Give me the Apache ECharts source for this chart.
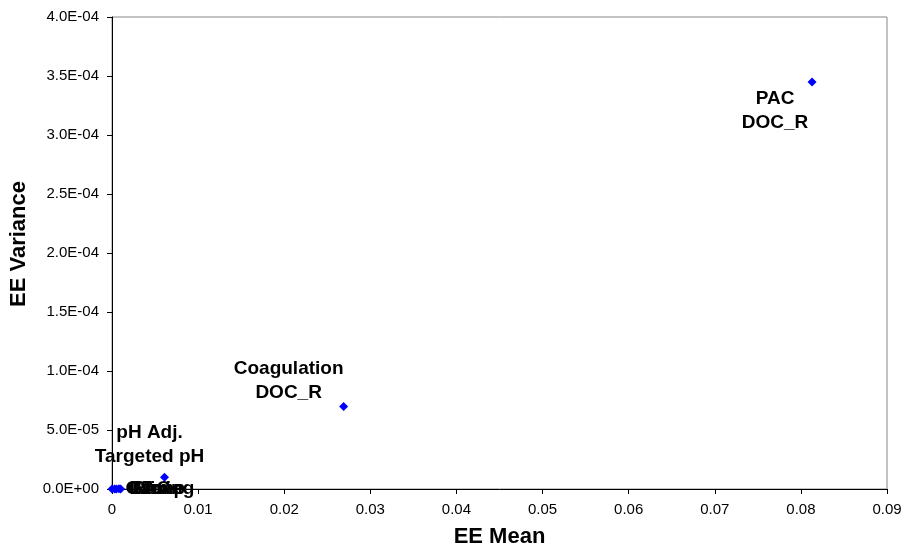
<!DOCTYPE html>
<html lang="en">
<head>
    <meta charset="UTF-8">
    <title>EE Mean vs EE Variance</title>
    <script src="https://cdn.jsdelivr.net/npm/echarts@6/dist/echarts.min.js"></script>
    <style>
        html, body { margin: 0; padding: 0; background: #fff; }
    </style>
</head>
<body>
    <div id="main" style="width:901px;height:547px;"></div>

<script>

// point labels, EE mean (x) and EE variance (y)
var labels = ['PAC\nDOC_R', 'Coagulation\nDOC_R', 'pH Adj.\nTargeted pH',
              'Ozone', 'GAC', 'Lime', 'Pump', 'Mixing'];
var eeMean = [0.0813, 0.0269, 0.0061, 0.0000, 0.0003, 0.0005, 0.0008, 0.0010];
var eeVariance = [3.45e-4, 7.0e-5, 1.0e-5, 0, 1e-7, 0, 2e-7, 0];

// label placement (label centre relative to point) for the separated points;
// the rest sit to the right of their point
var labelOffsets = {
    'PAC\nDOC_R': [-37, 29],
    'Coagulation\nDOC_R': [-55, -26],
    'pH Adj.\nTargeted pH': [-15, -32]
};

var fontFamily = '"Liberation Sans", Arial, sans-serif';

function sciLabel(v) {
    var parts = v.toExponential(1).split('e');
    var exp = parseInt(parts[1], 10);
    var sign = exp < 0 ? '-' : '+';
    var digits = String(Math.abs(exp));
    if (digits.length < 2) digits = '0' + digits;
    return parts[0] + 'E' + sign + digits;
}

var points = labels.map(function (name, i) {
    var item = { name: name, value: [eeMean[i], eeVariance[i]] };
    if (labelOffsets[name]) {
        item.label = { position: 'inside', align: 'center', verticalAlign: 'middle' };
    }
    return item;
});

var myChart = echarts.init(document.getElementById('main'));

myChart.setOption({
    backgroundColor: '#fff',
    animation: false,
    grid: {
        left: 112, right: 14, top: 17, bottom: 58,
        outerBoundsMode: 'none',
        containLabel: false,
        show: true,
        borderColor: '#888',
        borderWidth: 1
    },
    xAxis: {
        type: 'value',
        min: 0, max: 0.09, interval: 0.01,
        name: 'EE Mean',
        nameLocation: 'middle',
        nameGap: 37,
        nameTextStyle: { fontFamily: fontFamily, fontSize: 22, fontWeight: 'bold', color: '#000' },
        axisLine: { show: true, lineStyle: { color: '#000', width: 1 } },
        axisTick: { show: true, length: 5, lineStyle: { color: '#000' } },
        axisLabel: {
            margin: 13,
            fontFamily: fontFamily, fontSize: 15, color: '#000',
            formatter: function (v) { return String(+v.toFixed(2)); }
        },
        splitLine: { show: false }
    },
    yAxis: {
        type: 'value',
        min: 0, max: 4e-4, interval: 5e-5,
        name: 'EE Variance',
        nameLocation: 'middle',
        nameGap: 82,
        nameTextStyle: { fontFamily: fontFamily, fontSize: 22, fontWeight: 'bold', color: '#000', padding: [0, 0, 0, 18] },
        axisLine: { show: true, lineStyle: { color: '#000', width: 1 } },
        axisTick: { show: true, length: 5, lineStyle: { color: '#000' } },
        axisLabel: {
            margin: 13,
            fontFamily: fontFamily, fontSize: 15, color: '#000',
            formatter: sciLabel
        },
        splitLine: { show: false }
    },
    series: [{
        type: 'scatter',
        symbol: 'diamond',
        symbolSize: 9,
        itemStyle: { color: '#0000ff', opacity: 1 },
        label: {
            show: true,
            position: 'right',
            distance: 9,
            formatter: '{b}',
            fontFamily: fontFamily,
            fontSize: 19,
            fontWeight: 'bold',
            lineHeight: 24,
            color: '#000',
            opacity: 1
        },
        labelLayout: function (params) {
            var off = labelOffsets[labels[params.dataIndex]];
            if (!off) return {};
            return { dx: off[0], dy: off[1] };
        },
        data: points
    }]
});

</script>
</body>
</html>
